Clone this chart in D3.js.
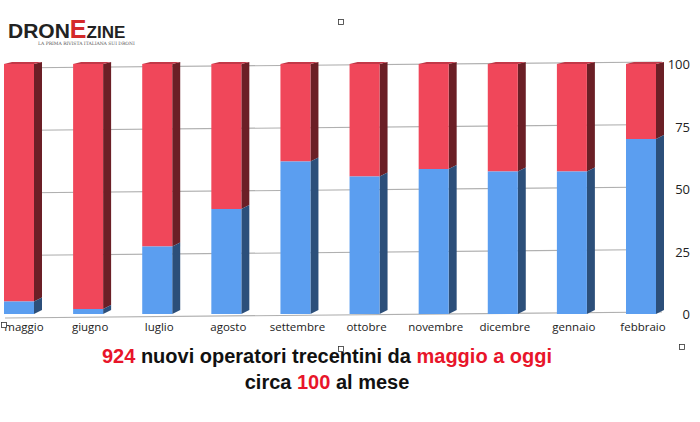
<!DOCTYPE html>
<html><head><meta charset="utf-8">
<script src="https://cdn.jsdelivr.net/npm/d3@7"></script>
<style>body{margin:0;background:#fff}</style>
</head><body><div id="chart"></div>
<script>
const months = ["maggio","giugno","luglio","agosto","settembre","ottobre","novembre","dicembre","gennaio","febbraio"];
const blueVals = [5, 2, 27, 42, 61, 55, 58, 57, 57, 70];
const yTicks = [0, 25, 50, 75, 100];

const W = 700, H = 422;
const svg = d3.select("#chart").append("svg").attr("width", W).attr("height", H)
    .style("font-family", "'Open Sans', sans-serif");

const x = d3.scalePoint().domain(months).range([19, 641]);
const bw = 30;
const y = d3.scaleLinear().domain([0, 100]).range([314, 64]);

// gridlines
svg.append("g").selectAll("line").data(yTicks).enter().append("line")
    .attr("x1", 5).attr("x2", 662)
    .attr("y1", d => y(d) + 4).attr("y2", d => y(d) - 2)
    .attr("stroke", "#b0b0b0").attr("stroke-width", 1.2);

// right axis labels
svg.append("g").selectAll("text").data(yTicks).enter().append("text")
    .attr("x", 690).attr("y", d => y(d) + 5).attr("text-anchor", "end")
    .attr("font-size", 13).attr("fill", "#222")
    .text(d => d);

const depth = 8, rise = 4;
const g = svg.append("g");
months.forEach((m, i) => {
    const x0 = x(m) - bw / 2, b = blueVals[i];
    const yb = y(b), yTop = y(100), y0 = y(0);
    // side faces
    g.append("path").attr("d", `M${x0+bw},${yTop} l${depth},${-rise+2} L${x0+bw+depth},${yb-rise} L${x0+bw},${yb} Z`)
        .attr("fill", "#6b1f26");
    g.append("path").attr("d", `M${x0+bw},${yb} L${x0+bw+depth},${yb-rise} L${x0+bw+depth},${y0-rise} L${x0+bw},${y0} Z`)
        .attr("fill", "#2c4f7a");
    // fronts
    g.append("rect").attr("x", x0).attr("y", yTop).attr("width", bw).attr("height", yb - yTop).attr("fill", "#f0475a");
    g.append("rect").attr("x", x0).attr("y", yb).attr("width", bw).attr("height", y0 - yb).attr("fill", "#5b9ef0");
    // top cap
    g.append("path").attr("d", `M${x0},${yTop} L${x0+depth},${yTop-rise+2} L${x0+bw+depth},${yTop-rise+2} L${x0+bw},${yTop} Z`)
        .attr("fill", "#c23848");
    // label
    svg.append("text").attr("x", Math.max(x(m) + 2, 24)).attr("y", 331)
        .attr("text-anchor", "middle").attr("font-size", 11.5).attr("fill", "#222").text(m);
});

// small selection handles
[[341,22],[341,349],[4,325],[682,347]].forEach(p =>
    svg.append("rect").attr("x", p[0]-2.5).attr("y", p[1]-2.5).attr("width", 5).attr("height", 5)
       .attr("fill", "#fff").attr("stroke", "#333").attr("stroke-width", 0.8));

// logo
svg.append("text").attr("x", 8).attr("y", 38).attr("font-size", 21).attr("font-weight", "bold")
    .attr("font-family", "'Liberation Sans', sans-serif").attr("fill", "#222")
    .html('DRON<tspan fill="#d42a2a" font-size="25">E</tspan><tspan font-size="17">ZINE</tspan>');
svg.append("text").attr("x", 38).attr("y", 45).attr("font-size", 4.5).attr("fill", "#555")
    .attr("font-family", "'DejaVu Serif', serif").text("LA PRIMA RIVISTA ITALIANA SUI DRONI");

// caption
const cap = svg.append("g").attr("font-family", "'Liberation Sans', Arial, sans-serif")
    .attr("font-weight", "bold").attr("font-size", 20).attr("text-anchor", "middle").attr("fill", "#111");
cap.append("text").attr("x", 327).attr("y", 363)
    .html('<tspan fill="#e8152a">924</tspan> nuovi operatori trecentini da <tspan fill="#e8152a">maggio a oggi</tspan>');
cap.append("text").attr("x", 327).attr("y", 389)
    .html('circa <tspan fill="#e8152a">100</tspan> al mese');
</script></body></html>
